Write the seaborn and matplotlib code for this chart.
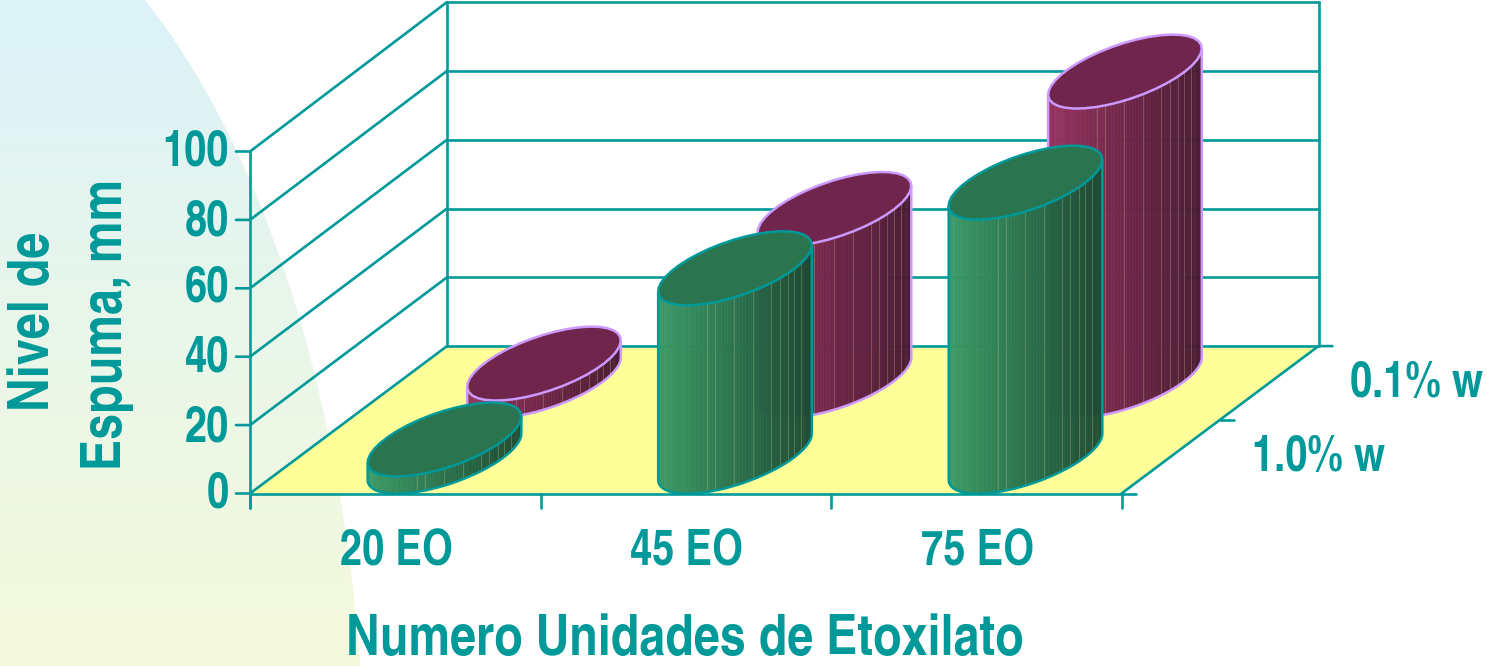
import matplotlib
matplotlib.use("Agg")
import matplotlib.pyplot as plt
from matplotlib.patches import Ellipse, Polygon
import numpy as np
import pandas as pd
import seaborn as sns

# Data
categories = ["20 EO", "45 EO", "75 EO"]
series = ["1.0% w", "0.1% w"]
foam_10 = [5, 55, 80]
foam_01 = [5, 50, 90]
y_ticks = [0, 20, 40, 60, 80, 100]

TEAL = "#009999"
FLOOR = "#FFFF99"

# Oblique projection of the 3D box, in pixels of the output image
ORIGIN = (250, 493.5)
PX_CAT = 290.5      # one category to the right
PX_DEPTH = (98.5, 73.7)  # one series to the back
PX_VALUE = 3.42     # one foam unit up at the front
ROW_POS = [0.5, 1.53]
ROW_NUDGE = [0, -2]
RAD_X = 60
RAD_DEPTH = 48
RAD_Y = 37


def project(cat, depth, value=0):
    x = ORIGIN[0] + cat * PX_CAT + depth * PX_DEPTH[0]
    y = ORIGIN[1] - depth * PX_DEPTH[1] - value * (PX_VALUE + 0.01 * depth)
    return x, y


sns.set_theme(style="white")
plt.rcParams["font.family"] = ["TeX Gyre Heros Cn", "Liberation Sans", "DejaVu Sans"]
plt.rcParams["font.weight"] = "bold"

fig = plt.figure(figsize=(14.87, 6.66), dpi=100)
ax = fig.add_axes([0, 0, 1, 1])

# Background: pale gradient inside a big ellipse on the left
bg_cmap = sns.blend_palette(["#DCF2F8", "#F6FADC"], as_cmap=True)
bg = ax.imshow(np.linspace(0, 1, 256).reshape(-1, 1), cmap=bg_cmap, aspect="auto",
               extent=(0, 1487, 666, 0), zorder=0)
clip = Ellipse((-100, 800), 930, 1882, transform=ax.transData, fc="none", ec="none")
ax.add_patch(clip)
bg.set_clip_path(clip)
ax.set_xlim(0, 1487)
ax.set_ylim(666, 0)

# Floor
ax.add_patch(Polygon([project(0, 0), project(3, 0), project(3, 2), project(0, 2)],
                     fc=FLOOR, ec="none", zorder=1))

# Box lines: left wall, back wall, floor edges and ticks
rows = []


def add_line(name, *points):
    for px, py in points:
        rows.append({"line": name, "x": px, "y": py})


for v in y_ticks:
    add_line(f"left{v}", (project(0, 0, v)[0] - 14, project(0, 0, v)[1]), project(0, 0, v), project(0, 2, v))
    add_line(f"back{v}", project(0, 2, v), project(3, 2, v))
add_line("axis", (ORIGIN[0], ORIGIN[1] + 14), project(0, 0, y_ticks[-1]))
add_line("front", project(0, 0), (project(3, 0)[0] + 14, ORIGIN[1]))
add_line("side", project(3, 0), project(3, 2), (project(3, 2)[0] + 14, project(3, 2)[1]))
add_line("mid", project(3, 1), (project(3, 1)[0] + 14, project(3, 1)[1]))
add_line("wall0", project(0, 2), project(0, 2, y_ticks[-1]))
add_line("wall1", project(3, 2), project(3, 2, y_ticks[-1]))
for i in range(4):
    add_line(f"xtick{i}", project(i, 0), (project(i, 0)[0], ORIGIN[1] + 14))
sns.lineplot(data=pd.DataFrame(rows), x="x", y="y", units="line", estimator=None, sort=False,
             color=TEAL, lw=1.9, ax=ax, zorder=2, legend=False)

# Cylinders, back row first
row_styles = [
    {"light": "#3A9A66", "dark": "#1D4A34", "top": "#2A7550", "edge": TEAL},
    {"light": "#96335F", "dark": "#481A32", "top": "#70264C", "edge": "#CC99FF"},
]
stripes = [0.32, 0.37, 0.495, 0.62, 0.735, 0.79, 0.845, 0.885, 0.93]
t0 = np.arctan2(RAD_DEPTH, RAD_X)
t_low = np.linspace(t0 + np.pi, t0 + 2 * np.pi, 80)
t_all = np.linspace(0, 2 * np.pi, 40)


def ring(cx, cy, t):
    return cx + RAD_X * np.cos(t) + RAD_DEPTH * np.sin(t), cy - RAD_Y * np.sin(t)


for r in [1, 0]:
    values = foam_10 if r == 0 else foam_01
    style = row_styles[r]
    colors = sns.blend_palette([style["light"], style["dark"]], 80)
    z = 10 + (1 - r) * 10
    for c, val in enumerate(values):
        cx, base = project(c + 0.5, ROW_POS[r])
        cx += ROW_NUDGE[r]
        _, top = project(c + 0.5, ROW_POS[r], val)
        xs, ys = ring(cx, base, t_low)
        height = base - top
        # lower half of the wall as thin vertical strips, dark to the right
        for k in range(len(t_low) - 1):
            mid = (0.5 * (xs[k] + xs[k + 1]) - xs[0]) / (xs[-1] - xs[0])
            col = colors[int(min(mid, 0.999) * 80)]
            ax.fill([xs[k], xs[k + 1], xs[k + 1], xs[k]],
                    [ys[k], ys[k + 1], ys[k + 1] - height, ys[k] - height],
                    color=col, lw=0.4, zorder=z)
        for f in stripes:
            sx = xs[0] + f * (xs[-1] - xs[0])
            sy = np.interp(sx, xs, ys)
            ax.plot([sx, sx], [sy, sy - height], color="#D8D8A0", alpha=0.25, lw=0.8, zorder=z + 1)
        # outline of the wall
        ax.plot(np.r_[xs[0], xs, xs[-1]], np.r_[ys[0] - height, ys, ys[-1] - height],
                color=style["edge"], lw=1.8, zorder=z + 1)
        # top cap
        tx, ty = ring(cx, top, t_all)
        ax.fill(tx, ty, fc=style["top"], ec=style["edge"], lw=1.8, zorder=z + 2)

# Text
ts = 35
for v, ty in zip(y_ticks, [495, 428, 358, 289, 222, 152]):
    ax.text(229, ty, str(v), color=TEAL, fontsize=ts, ha="right", va="center", zorder=30)
for i, name in enumerate(categories):
    ax.text(project(i + 0.5, 0)[0] + 1, 552, name, color=TEAL, fontsize=ts, ha="center", va="center", zorder=30)
ax.text(1318, 458, series[0], color=TEAL, fontsize=ts, ha="center", va="center", zorder=30)
ax.text(1416, 384, series[1], color=TEAL, fontsize=ts, ha="center", va="center", zorder=30)
ax.text(35, 321, "Nivel de", color=TEAL, fontsize=41, rotation=90, ha="center", va="center", zorder=30)
ax.text(107, 324, "Espuma, mm", color=TEAL, fontsize=41, rotation=90, ha="center", va="center", zorder=30)
ax.text(685, 641, "Numero Unidades de Etoxilato", color=TEAL, fontsize=41, ha="center", va="center", zorder=30)

ax.set_axis_off()
fig.savefig("out.png", dpi=100)
